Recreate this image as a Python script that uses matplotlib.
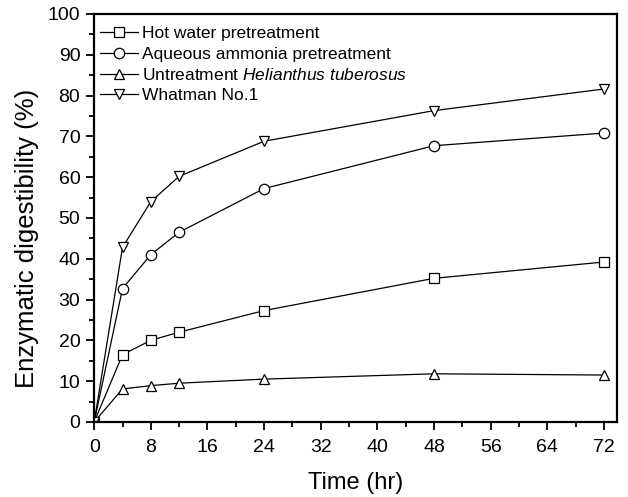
import matplotlib
matplotlib.use('Agg')
import matplotlib.pyplot as plt
from matplotlib.ticker import MultipleLocator

plt.rcParams['font.family'] = ['Liberation Sans', 'DejaVu Sans']
plt.rcParams['mathtext.fontset'] = 'custom'
plt.rcParams['mathtext.rm'] = 'Liberation Sans'
plt.rcParams['mathtext.it'] = 'Liberation Sans:italic'

# time points (hr)
time = [0, 4, 8, 12, 24, 48, 72]

# enzymatic digestibility (%)
hot_water = [0, 16.5, 20.0, 22.0, 27.3, 35.2, 39.2]
ammonia = [0, 32.7, 41.0, 46.5, 57.2, 67.7, 70.8]
untreated = [0, 8.1, 8.9, 9.5, 10.5, 11.8, 11.5]
whatman = [0, 42.8, 54.0, 60.2, 68.8, 76.3, 81.6]

fig = plt.figure(figsize=(6.28, 4.97), dpi=100)
ax = fig.add_axes([0.150, 0.151, 0.832, 0.821])

style = dict(color='black', lw=0.9, markersize=7.5, markerfacecolor='white',
             markeredgecolor='black', markeredgewidth=0.9)
ax.plot(time, hot_water, marker='s', label='Hot water pretreatment', **style)
ax.plot(time, ammonia, marker='o', label='Aqueous ammonia pretreatment', **style)
ax.plot(time, untreated, marker='^', label='Untreatment $\\it{Helianthus\\ tuberosus}$', **style)
ax.plot(time, whatman, marker='v', label='Whatman No.1', **style)

ax.set_xlim(0, 73.8)
ax.set_ylim(0, 100)
ax.xaxis.set_major_locator(MultipleLocator(8))
ax.xaxis.set_minor_locator(MultipleLocator(4))
ax.yaxis.set_major_locator(MultipleLocator(10))
ax.yaxis.set_minor_locator(MultipleLocator(5))
ax.tick_params(which='major', direction='out', length=6, width=1.3, labelsize=14, pad=4)
ax.tick_params(axis='x', which='major', pad=6)
ax.tick_params(which='minor', direction='out', length=3.5, width=1.3)
for s in ax.spines.values():
    s.set_linewidth(1.6)

ax.set_xlabel('Time (hr)', fontsize=17, labelpad=12)
ax.set_ylabel('Enzymatic digestibility (%)', fontsize=18.5)
ax.yaxis.set_label_coords(-0.106, 0.45)

leg = ax.legend(loc='upper left', bbox_to_anchor=(-0.013, 1.0), frameon=False,
                fontsize=12.5, handlelength=2.2, handletextpad=0.25,
                labelspacing=0.3, borderaxespad=0.2, borderpad=0.5)

fig.savefig('out.png', dpi=100)
